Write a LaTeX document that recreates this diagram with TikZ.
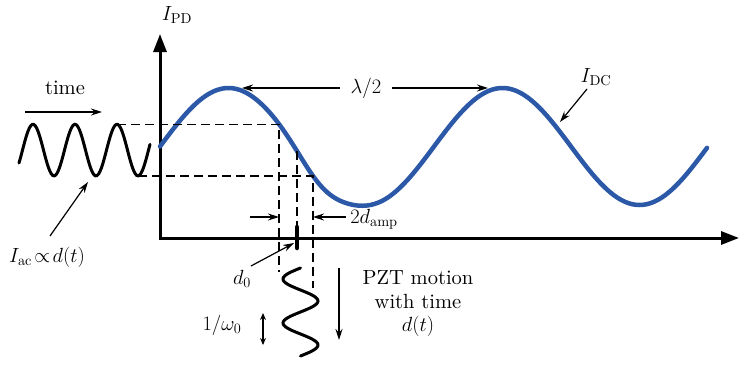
\RequirePackage{fix-cm}
\documentclass[tikz,border=0pt]{standalone}
\usepackage{amsmath,amssymb}
\usepackage{fontspec}
\setmainfont{lmroman10-regular.otf}[ItalicFont=lmroman10-italic.otf]
\usetikzlibrary{arrows.meta,positioning}
\definecolor{curveblue}{RGB}{44,88,168}

\begin{document}
\begin{tikzpicture}[x=1pt,y=-1pt,>=Stealth,font=\fontsize{20.5}{23.5}\selectfont,
  axis/.style={line width=3pt,{Triangle[length=18pt,width=13pt]}-{Triangle[length=18pt,width=13pt]}},
  guide/.style={line width=1.6pt,dash pattern=on 9pt off 5pt},
  pointer/.style={line width=1.2pt,-{Stealth[length=11pt,width=7pt]}},
  wave/.style={line width=3pt,line cap=round}]
  \useasboundingbox (0,0) rectangle (740,367);
  % axes
  \draw[axis] (160,34) -- (160,238) -- (739,238);
  \node (ipd) at (177,15) {$I_{\mathrm{PD}}$};
  % photodiode current versus position
  \draw[curveblue,line width=4.5pt,line cap=round] plot[domain=160:707,samples=220]
     (\x,{146.5-58.5*sin(1.31387*(\x-160))+9*exp(-min(((\x-320)/28)^2,20))});
  \coordinate (hi) at (279,124.3);
  \coordinate (mid) at (297,151);
  \coordinate (lo) at (313,175.9);
  % ac signal in time
  \draw[wave] plot[domain=19:150,samples=90]
     (\x,{150.1-25.8*cos(8.5714*(\x-33))});
  \coordinate (acpeak) at (117,124.3);
  \coordinate (actrough) at (138,175.9);
  % projection lines
  \draw[guide] (acpeak) -- (hi) -- (279,272);
  \draw[guide] (actrough) -- (lo) -- (313,288);
  \draw[guide] (mid) -- (297,238);
  % PZT motion
  \draw[wave] plot[domain=268:356,samples=70]
     ({300.5-17.5*sin(8.1818*(\x-268))},\x);
  \draw[line width=4.5pt,line cap=round] (297,227) -- (297,248);
  \coordinate (dzeropt) at (294,243);
  % labels and pointers
  \node (time) at (65,88) {time};
  \coordinate (tstart) at (25,112);
  \coordinate (tend) at (102,112);
  \draw[pointer] (tstart) -- (tend);
  \node (iac) at (47,257) {$I_{\mathrm{ac}}\!\propto\! d(t)$};
  \coordinate (acpt) at (88,182);
  \draw[pointer] (50,236) -- (acpt);
  \node[inner sep=11pt] (lam) at (366,88) {$\lambda/2$};
  \coordinate (peakA) at (242,88);
  \coordinate (peakB) at (488,88);
  \draw[pointer] (lam.west) -- (peakA);
  \draw[pointer] (lam.east) -- (peakB);
  \node (idc) at (596,77) {$I_{\mathrm{DC}}$};
  \coordinate (dcpt) at (560,122);
  \draw[pointer] (587,89) -- (dcpt);
  \node[inner sep=4pt] (amp) at (374,219) {$2d_{\mathrm{amp}}$};
  \coordinate (ampL) at (279,217);
  \coordinate (ampR) at (313,217);
  \draw[pointer] (250,217) -- (ampL);
  \draw[pointer] (amp.west |- ampR) -- (ampR);
  \node (dzero) at (242,279) {$d_0$};
  \draw[pointer] (251,266) -- (dzeropt);
  \node (omega) at (222,325) {$1/\omega_0$};
  \draw[line width=1.2pt,{Stealth[length=7pt,width=6pt]}-{Stealth[length=7pt,width=6pt]}]
     (263,313) -- (263,345);
  \draw[pointer] (339,268) -- (339,340);
  \node[align=center] (pzt) at (418,304) {PZT motion\\with time\\$d(t)$};
\end{tikzpicture}
\end{document}
